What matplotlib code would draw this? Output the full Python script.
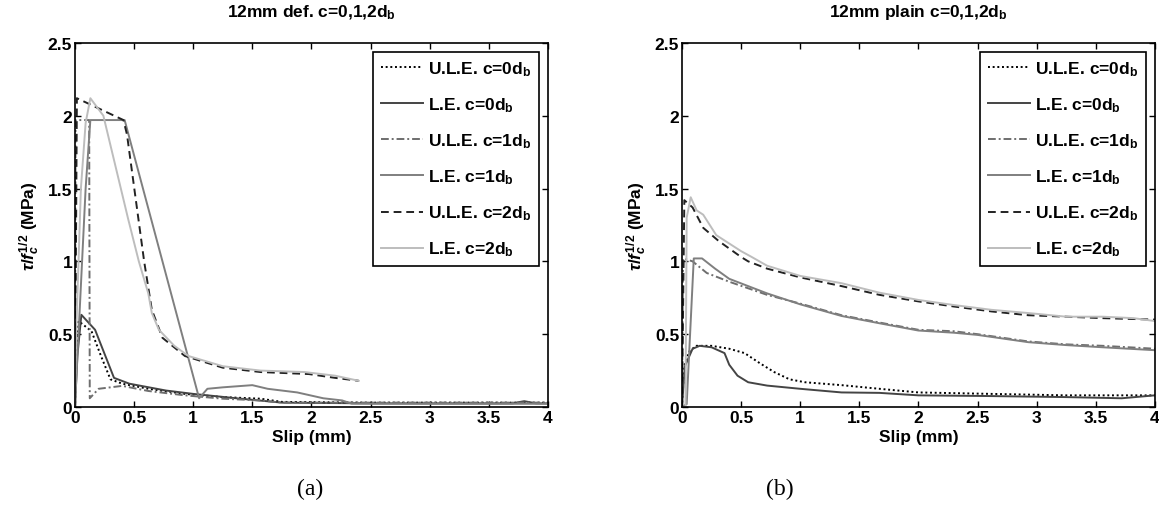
import numpy as np
import matplotlib
matplotlib.use("Agg")
import matplotlib.pyplot as plt

plt.rcParams['font.family'] = ['Liberation Sans', 'DejaVu Sans']
plt.rcParams['font.weight'] = 'bold'
plt.rcParams['mathtext.fontset'] = 'custom'
plt.rcParams['mathtext.rm'] = 'Liberation Sans:bold'
plt.rcParams['mathtext.it'] = 'Liberation Sans:italic:bold'
plt.rcParams['mathtext.bf'] = 'Liberation Sans:bold'

labels = [r'U.L.E. c=0d$_\mathrm{b}$', r'L.E. c=0d$_\mathrm{b}$',
          r'U.L.E. c=1d$_\mathrm{b}$', r'L.E. c=1d$_\mathrm{b}$',
          r'U.L.E. c=2d$_\mathrm{b}$', r'L.E. c=2d$_\mathrm{b}$']
colors = ['#000000', '#444444', '#6e6e6e', '#7f7f7f', '#222222', '#bdbdbd']
styles = [(0, (1, 1.4)), '-', (0, (4, 1.5, 1, 1.5)), '-', (0, (4, 2.5)), '-']

# (a) 12mm deformed bar
def_ule0_x = [0, 0.01, 0.03, 0.14, 0.22, 0.30, 0.40, 0.62, 0.93, 1.25, 1.57, 1.75, 2.5, 3.0, 3.5, 4.0]
def_ule0_y = [0, 0.30, 0.59, 0.52, 0.35, 0.19, 0.16, 0.125, 0.09, 0.068, 0.057, 0.035, 0.03, 0.03, 0.03, 0.03]
def_le0_x = [0, 0.02, 0.054, 0.17, 0.33, 0.46, 0.77, 1.0, 1.4, 1.75, 2.5, 3.0, 3.7, 3.8, 3.9, 4.0]
def_le0_y = [0, 0.35, 0.633, 0.53, 0.20, 0.16, 0.113, 0.09, 0.057, 0.03, 0.025, 0.025, 0.025, 0.04, 0.025, 0.025]
def_ule1_x = [0, 0.005, 0.12, 0.125, 0.20, 0.40, 0.62, 0.93, 1.25, 1.57, 1.75, 2.5, 3.0, 3.5, 4.0]
def_ule1_y = [0, 1.97, 1.97, 0.06, 0.125, 0.145, 0.11, 0.08, 0.057, 0.045, 0.03, 0.03, 0.03, 0.03, 0.03]
def_le1_x = [0, 0.03, 0.06, 0.09, 0.13, 0.42, 1.05, 1.12, 1.25, 1.50, 1.63, 1.88, 2.10, 2.26, 2.34, 3.0, 4.0]
def_le1_y = [0, 0.5, 1.0, 1.5, 1.97, 1.97, 0.06, 0.125, 0.135, 0.15, 0.125, 0.10, 0.06, 0.045, 0.023, 0.022, 0.022]
def_ule2_x = [0, 0.016, 0.41, 0.44, 0.585, 0.65, 0.74, 0.93, 1.25, 1.57, 1.98, 2.2, 2.4]
def_ule2_y = [0, 2.12, 1.97, 1.87, 1.0, 0.667, 0.475, 0.35, 0.27, 0.24, 0.226, 0.20, 0.18]
def_le2_x = [0, 0.01, 0.03, 0.05, 0.09, 0.13, 0.24, 0.45, 0.54, 0.62, 0.65, 0.71, 0.84, 0.96, 1.25, 1.57, 1.94, 2.2, 2.4]
def_le2_y = [0, 0.5, 1.0, 1.5, 1.95, 2.12, 2.0, 1.29, 1.0, 0.78, 0.645, 0.53, 0.42, 0.35, 0.28, 0.25, 0.24, 0.215, 0.18]

# (b) 12mm plain bar
pl_ule0_x = [0, 0.02, 0.06, 0.12, 0.25, 0.40, 0.53, 0.66, 0.78, 0.91, 1.04, 1.35, 1.67, 2.0, 2.62, 3.25, 4.0]
pl_ule0_y = [0, 0.28, 0.38, 0.42, 0.42, 0.40, 0.37, 0.30, 0.24, 0.19, 0.17, 0.15, 0.125, 0.10, 0.09, 0.08, 0.08]
pl_le0_x = [0, 0.025, 0.09, 0.15, 0.25, 0.36, 0.40, 0.47, 0.56, 0.72, 1.0, 1.35, 1.67, 2.0, 2.62, 3.25, 3.72, 4.0]
pl_le0_y = [0, 0.28, 0.40, 0.42, 0.41, 0.37, 0.29, 0.215, 0.17, 0.147, 0.125, 0.10, 0.097, 0.08, 0.075, 0.068, 0.06, 0.08]
pl_ule1_x = [0, 0.01, 0.09, 0.21, 0.40, 0.72, 1.0, 1.35, 1.67, 2.0, 2.3, 2.5, 2.93, 3.25, 3.56, 4.0]
pl_ule1_y = [0, 1.02, 1.0, 0.92, 0.86, 0.77, 0.71, 0.63, 0.58, 0.53, 0.52, 0.50, 0.45, 0.43, 0.42, 0.40]
pl_le1_x = [0, 0.04, 0.10, 0.15, 0.17, 0.28, 0.40, 0.72, 1.0, 1.35, 1.67, 2.0, 2.3, 2.5, 2.93, 3.25, 3.56, 4.0]
pl_le1_y = [0, 0.02, 1.02, 1.02, 1.02, 0.95, 0.88, 0.78, 0.705, 0.625, 0.575, 0.525, 0.51, 0.495, 0.445, 0.425, 0.41, 0.39]
pl_ule2_x = [0, 0.02, 0.09, 0.18, 0.31, 0.50, 0.56, 0.72, 1.0, 1.35, 1.67, 2.0, 2.3, 2.62, 2.93, 3.25, 3.56, 4.0]
pl_ule2_y = [0, 1.42, 1.37, 1.23, 1.14, 1.03, 1.0, 0.95, 0.89, 0.83, 0.77, 0.725, 0.69, 0.656, 0.63, 0.62, 0.61, 0.60]
pl_le2_x = [0, 0.03, 0.04, 0.074, 0.124, 0.18, 0.29, 0.50, 0.59, 0.72, 1.0, 1.35, 1.67, 2.0, 2.3, 2.62, 2.93, 3.25, 3.56, 3.82, 4.0]
pl_le2_y = [0, 0.0, 1.30, 1.44, 1.35, 1.32, 1.18, 1.07, 1.03, 0.97, 0.90, 0.85, 0.785, 0.735, 0.70, 0.667, 0.645, 0.62, 0.62, 0.61, 0.59]

series_a = [(def_ule0_x, def_ule0_y), (def_le0_x, def_le0_y), (def_ule1_x, def_ule1_y),
            (def_le1_x, def_le1_y), (def_ule2_x, def_ule2_y), (def_le2_x, def_le2_y)]
series_b = [(pl_ule0_x, pl_ule0_y), (pl_le0_x, pl_le0_y), (pl_ule1_x, pl_ule1_y),
            (pl_le1_x, pl_le1_y), (pl_ule2_x, pl_ule2_y), (pl_le2_x, pl_le2_y)]

fs = 12.5
fig = plt.figure(figsize=(11.59, 5.10), dpi=100)
ax1 = fig.add_axes([0.0647, 0.2, 0.408, 0.714])
ax2 = fig.add_axes([0.5884, 0.2, 0.408, 0.714])

for ax, series, title in [(ax1, series_a, r'12mm def. c=0,1,2d$_\mathrm{b}$'),
                          (ax2, series_b, r'12mm plain c=0,1,2d$_\mathrm{b}$')]:
    for (x, y), lab, c, ls in zip(series, labels, colors, styles):
        ax.plot(x, y, color=c, linestyle=ls, lw=1.4, label=lab)
    ax.set_xlim(0, 4)
    ax.set_ylim(0, 2.5)
    ax.set_xticks(np.arange(0, 4.01, 0.5))
    ax.set_xticklabels(['0', '0.5', '1', '1.5', '2', '2.5', '3', '3.5', '4'])
    ax.set_yticks(np.arange(0, 2.51, 0.5))
    ax.set_yticklabels(['0', '0.5', '1', '1.5', '2', '2.5'])
    ax.tick_params(direction='in', top=True, right=True, length=4, width=1,
                   labelsize=fs, pad=2)
    for sp in ax.spines.values():
        sp.set_linewidth(1.2)
    ax.set_xlabel('Slip (mm)', fontsize=fs, fontweight='bold', labelpad=3)
    ax.set_ylabel(r'$\tau/f_c^{1/2}$ (MPa)', fontsize=fs, fontweight='bold', labelpad=4)
    ax.set_title(title, fontsize=fs, fontweight='bold', pad=19)
    leg = ax.legend(loc='upper right', fontsize=fs, handlelength=2.4, handletextpad=0.3,
                    labelspacing=1.0, borderpad=0.45, borderaxespad=0.5,
                    fancybox=False, framealpha=1, edgecolor='black')
    leg.get_frame().set_linewidth(1.2)

fig.text(0.268, 0.03, '(a)', family='Liberation Serif', fontsize=17, fontweight='normal', ha='center')
fig.text(0.673, 0.03, '(b)', family='Liberation Serif', fontsize=17, fontweight='normal', ha='center')

fig.savefig('out.png', dpi=100)
